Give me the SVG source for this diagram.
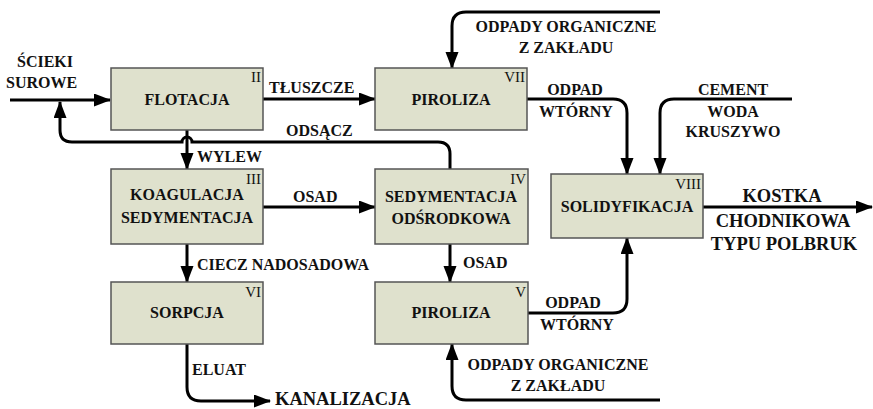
<svg xmlns="http://www.w3.org/2000/svg" width="873" height="409" viewBox="0 0 873 409">
<style>
.box{fill:#dfe1cd;stroke:#555;stroke-width:1.5}
.t{font-family:"Liberation Serif","Times New Roman",serif;font-weight:bold;font-size:16px;fill:#111}
.c{text-anchor:middle}
.big{font-size:18.5px}
.n{font-family:"Liberation Serif","Times New Roman",serif;font-size:15px;fill:#111;text-anchor:end}
.ln{fill:none;stroke:#000;stroke-width:3}
.ar{marker-end:url(#arr)}
</style>
<defs>
<marker id="arr" markerUnits="userSpaceOnUse" markerWidth="18" markerHeight="14" refX="16" refY="6.5" orient="auto">
<path d="M0,0 L17,6.5 L0,13 z" fill="#000"/>
</marker>
</defs>
<rect width="873" height="409" fill="#fff"/>
<g id="connectors">
<path class="ln ar" d="M10,100 H110"/>
<path class="ln ar" d="M450,169 V154 Q450,142 438,142 H192 A5,5 0 0 0 182,142 H72 Q60,142 60,130 V102"/>
<path class="ln ar" d="M263,99 H375"/>
<path class="ln ar" d="M187,130 V169"/>
<path class="ln ar" d="M263,207 H375"/>
<path class="ln ar" d="M187,244 V282"/>
<path class="ln ar" d="M450,244 V282"/>
<path class="ln ar" d="M187,344 V387 Q187,401 201,401 H270"/>
<path class="ln ar" d="M660,400 H466 Q452,400 452,386 V344"/>
<path class="ln ar" d="M528,313 H613 Q627,313 627,299 V238"/>
<path class="ln ar" d="M527,99 H613 Q627,99 627,113 V174"/>
<path class="ln ar" d="M792,99 H674 Q660,99 660,113 V174"/>
<path class="ln ar" d="M660,12 H466 Q452,12 452,26 V68"/>
<path class="ln ar" d="M703,207 H872"/>
</g>
<g id="labels">
<text class="t" x="17" y="67">ŚCIEKI</text>
<text class="t" x="6" y="88">SUROWE</text>
<text class="t" x="269" y="93">TŁUSZCZE</text>
<text class="t" x="286" y="136">ODSĄCZ</text>
<text class="t" x="197" y="162">WYLEW</text>
<text class="t" x="293" y="202">OSAD</text>
<text class="t" x="197" y="270">CIECZ NADOSADOWA</text>
<text class="t" x="463" y="268">OSAD</text>
<text class="t" x="192" y="375">ELUAT</text>
<text class="t big" x="275" y="405">KANALIZACJA</text>
<text class="t c" x="566" y="32">ODPADY ORGANICZNE</text>
<text class="t c" x="566" y="53">Z ZAKŁADU</text>
<text class="t c" x="575" y="95">ODPAD</text>
<text class="t c" x="576" y="117">WTÓRNY</text>
<text class="t c" x="733" y="95">CEMENT</text>
<text class="t c" x="733" y="117">WODA</text>
<text class="t c" x="733" y="137">KRUSZYWO</text>
<text class="t c" x="573" y="308">ODPAD</text>
<text class="t c" x="577" y="330">WTÓRNY</text>
<text class="t c" x="558" y="370">ODPADY ORGANICZNE</text>
<text class="t c" x="558" y="391">Z ZAKŁADU</text>
<text class="t c big" x="782" y="202">KOSTKA</text>
<text class="t c big" x="783" y="227">CHODNIKOWA</text>
<text class="t c big" x="784" y="250">TYPU POLBRUK</text>
</g>
<g id="flotacja">
<rect class="box" x="111" y="68" width="152" height="62"/>
<text class="t c" x="187" y="105">FLOTACJA</text>
<text class="n" x="261" y="82">II</text>
</g>
<g id="piroliza7">
<rect class="box" x="375" y="68" width="152" height="62"/>
<text class="t c" x="451" y="105">PIROLIZA</text>
<text class="n" x="525" y="82">VII</text>
</g>
<g id="koagulacja">
<rect class="box" x="111" y="169" width="152" height="75"/>
<text class="t c" x="187" y="200">KOAGULACJA</text>
<text class="t c" x="187" y="223">SEDYMENTACJA</text>
<text class="n" x="261" y="184">III</text>
</g>
<g id="sedymentacja">
<rect class="box" x="375" y="169" width="153" height="75"/>
<text class="t c" x="451" y="202">SEDYMENTACJA</text>
<text class="t c" x="451" y="224">ODŚRODKOWA</text>
<text class="n" x="526" y="184">IV</text>
</g>
<g id="solidyfikacja">
<rect class="box" x="551" y="174" width="152" height="64"/>
<text class="t c" x="627" y="212">SOLIDYFIKACJA</text>
<text class="n" x="701" y="189">VIII</text>
</g>
<g id="sorpcja">
<rect class="box" x="111" y="282" width="152" height="62"/>
<text class="t c" x="187" y="318">SORPCJA</text>
<text class="n" x="261" y="297">VI</text>
</g>
<g id="piroliza5">
<rect class="box" x="375" y="282" width="153" height="62"/>
<text class="t c" x="451" y="318">PIROLIZA</text>
<text class="n" x="526" y="297">V</text>
</g>
</svg>
